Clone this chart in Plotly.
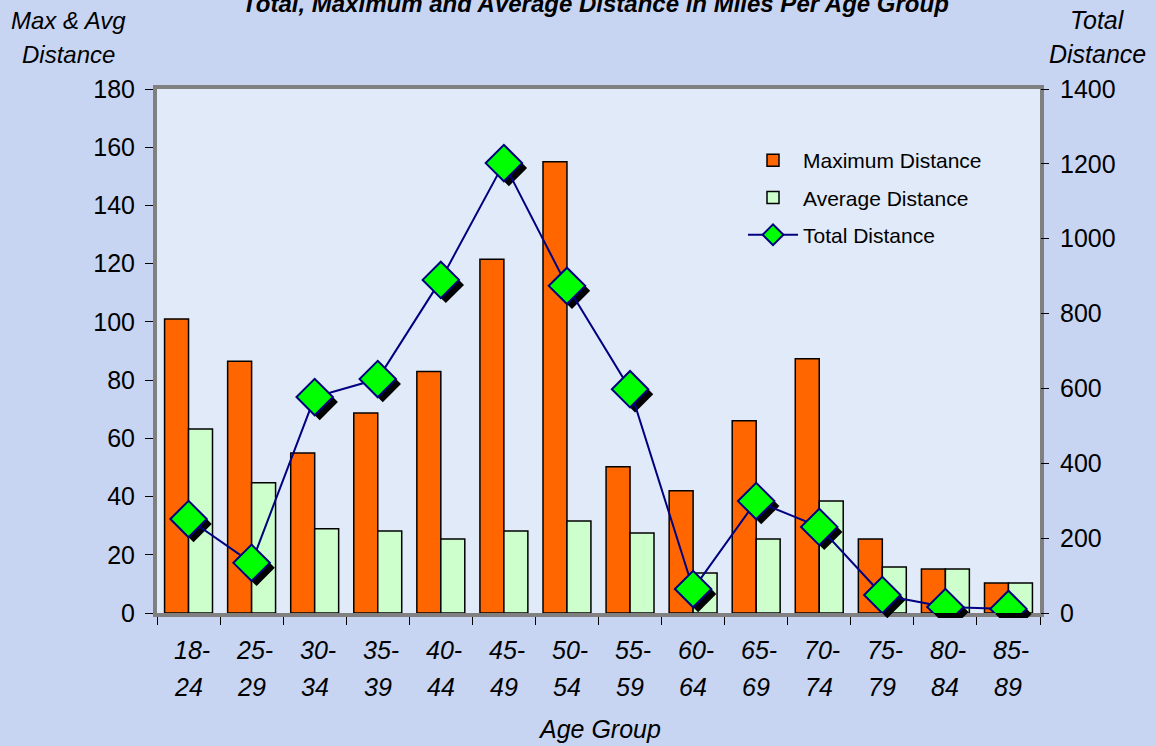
import plotly.graph_objects as go

age_groups = ["18-24", "25-29", "30-34", "35-39", "40-44", "45-49", "50-54",
              "55-59", "60-64", "65-69", "70-74", "75-79", "80-84", "85-89"]
max_distance = [101, 86.5, 55, 68.7, 83, 121.5, 155, 50.2, 42, 66, 87.3, 25.4, 15.1, 10.3]
avg_distance = [63.2, 44.7, 28.9, 28.2, 25.4, 28.2, 31.6, 27.5, 13.7, 25.4, 38.5, 15.8, 15.1, 10.3]
total_distance = [251, 134, 577, 625, 890, 1202, 874, 598, 64, 299, 230, 48, 16, 11]

title_text = "Total, Maximum and Average Distance in Miles Per Age Group"
left_title = ["Max & Avg", "Distance"]
right_title = ["Total", "Distance"]
x_title = "Age Group"

FONT = "Liberation Sans, Arial, sans-serif"
W, H = 1156, 746
ML, MR, MT, MB = 157, 111, 89, 128
PW = W - ML - MR
PH = H - MT - MB
SH = 5  # shadow offset px
dx = SH / PW
dy = SH / PH
xdom = [0, 1 - dx]
ydom = [dy, 1]

def px_x(px):
    return (px - ML) / PW

def px_y(py):
    return (H - MB - py) / PH

fig = go.Figure()

bar_line = dict(color="black", width=1.5)
fig.add_trace(go.Bar(x=age_groups, y=max_distance, name="Maximum Distance",
                     marker=dict(color="#ff6600", line=bar_line),
                     xaxis="x", yaxis="y", legendgroup="a"))
fig.add_trace(go.Bar(x=age_groups, y=avg_distance, name="Average Distance",
                     marker=dict(color="#ccffcc", line=bar_line),
                     xaxis="x", yaxis="y", legendgroup="b"))
# shadow of diamonds
fig.add_trace(go.Scatter(x=age_groups, y=total_distance, mode="markers",
                         marker=dict(symbol="diamond", size=28, color="black"),
                         showlegend=False, hoverinfo="skip",
                         xaxis="x2", yaxis="y2"))
fig.add_trace(go.Scatter(x=age_groups, y=total_distance, name="Total Distance",
                         mode="lines+markers",
                         line=dict(color="#000080", width=2),
                         marker=dict(symbol="diamond", size=28, color="#00ff00",
                                     line=dict(color="#000080", width=2)),
                         xaxis="x3", yaxis="y3", legendgroup="c"))

rng = [-0.5, len(age_groups) - 0.5]
common_x = dict(type="category", categoryorder="array", categoryarray=age_groups,
                range=rng, fixedrange=True)

TICK = 25
fig.update_layout(
    width=W, height=H,
    margin=dict(l=ML, r=MR, t=MT, b=MB, autoexpand=False),
    paper_bgcolor="#c7d5f3",
    plot_bgcolor="rgba(0,0,0,0)",
    font=dict(family=FONT, size=TICK, color="black"),
    barmode="group", bargap=0.24, bargroupgap=0,
    showlegend=True,
    legend=dict(x=px_x(743), y=px_y(140), xanchor="left", yanchor="top",
                bgcolor="rgba(0,0,0,0)", font=dict(size=21, family=FONT),
                tracegroupgap=7, itemwidth=50),
    xaxis=dict(**common_x, domain=xdom, anchor="y",
               showline=True, linecolor="#808080", linewidth=4, mirror=True,
               ticks="outside", tickson="boundaries", ticklen=8, tickcolor="black",
               tickwidth=1, showticklabels=False, showgrid=False, zeroline=False),
    yaxis=dict(domain=ydom, anchor="x", range=[0, 180], dtick=20,
               showline=True, linecolor="#808080", linewidth=4, mirror=True,
               ticks="outside", ticklen=8, tickcolor="black", tickwidth=1,
               ticklabelstandoff=5,
               showgrid=False, zeroline=False, tickfont=dict(size=TICK)),
    xaxis2=dict(**common_x, domain=[dx, 1], anchor="y2", visible=False),
    yaxis2=dict(domain=[0, 1 - dy], anchor="x2", range=[0, 1400], visible=False),
    xaxis3=dict(**common_x, domain=xdom, anchor="y3", visible=False),
    yaxis3=dict(domain=ydom, anchor="x3", side="right", range=[0, 1400], dtick=200,
                ticks="outside", ticklen=8, tickcolor="black", tickwidth=1,
                ticklabelstandoff=6,
                showgrid=False, zeroline=False, showline=False,
                tickfont=dict(size=TICK)),
    shapes=[dict(type="rect", xref="paper", yref="paper",
                 x0=xdom[0], x1=xdom[1], y0=ydom[0], y1=ydom[1],
                 fillcolor="#e1eaf8", line=dict(width=0), layer="below")],
)

ann = []
ann.append(dict(text="<b><i>" + title_text + "</i></b>", x=px_x(595), y=px_y(3),
                xref="paper", yref="paper", showarrow=False,
                font=dict(size=24, family=FONT), xanchor="center", yanchor="middle"))
for i, t in enumerate(left_title):
    ann.append(dict(text="<i>" + t + "</i>", x=px_x(68), y=px_y(20 + 34 * i),
                    xref="paper", yref="paper", showarrow=False,
                    font=dict(size=24, family=FONT), xanchor="center", yanchor="middle"))
for i, t in enumerate(right_title):
    ann.append(dict(text="<i>" + t + "</i>", x=px_x(1097), y=px_y(20 + 34 * i),
                    xref="paper", yref="paper", showarrow=False,
                    font=dict(size=25, family=FONT), xanchor="center", yanchor="middle"))
for g in age_groups:
    a, b = g.split("-")
    ann.append(dict(text="<i>" + a + "-</i>", x=g, xref="x", y=px_y(650), yref="paper",
                    showarrow=False, font=dict(size=TICK, family=FONT),
                    xanchor="center", yanchor="middle", xshift=3))
    ann.append(dict(text="<i>" + b + "</i>", x=g, xref="x", y=px_y(687), yref="paper",
                    showarrow=False, font=dict(size=TICK, family=FONT),
                    xanchor="center", yanchor="middle"))
ann.append(dict(text="<i>" + x_title + "</i>", x=px_x(599), y=px_y(729),
                xref="paper", yref="paper", showarrow=False,
                font=dict(size=25, family=FONT), xanchor="center", yanchor="middle"))
fig.update_layout(annotations=ann)

fig.write_html("out.html", config={"displayModeBar": False},
               post_script="document.body.style.margin='0';document.body.style.overflow='hidden';")
